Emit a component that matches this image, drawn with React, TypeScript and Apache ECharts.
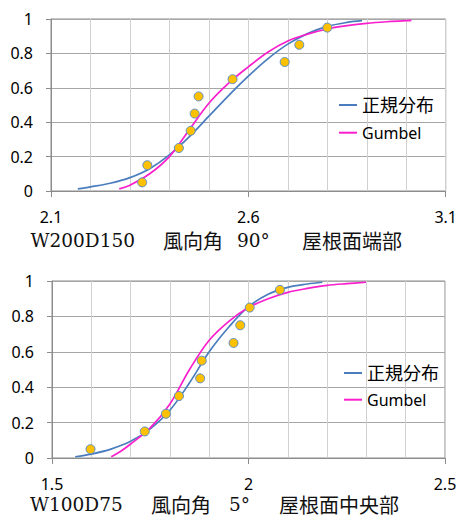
import React, { useEffect, useRef } from "react";
import * as echarts from "echarts";

// Upper panel: W200D150, wind direction 90°, roof edge
const upperObserved: [number, number][] = [
  [2.331, 0.05], [2.344, 0.15], [2.424, 0.25], [2.454, 0.35], [2.464, 0.45],
  [2.474, 0.55], [2.56, 0.65], [2.692, 0.75], [2.729, 0.85], [2.8, 0.95],
];
const upperNormal: [number, number][] = [
  [2.168, 0.012], [2.2, 0.024], [2.25, 0.045], [2.3, 0.078], [2.35, 0.13],
  [2.4, 0.21], [2.45, 0.315], [2.5, 0.435], [2.55, 0.555], [2.6, 0.668],
  [2.65, 0.77], [2.7, 0.854], [2.75, 0.915], [2.8, 0.957], [2.85, 0.98],
  [2.888, 0.99],
];
const upperGumbel: [number, number][] = [
  [2.273, 0.012], [2.3, 0.034], [2.35, 0.1], [2.4, 0.2], [2.45, 0.355],
  [2.5, 0.51], [2.55, 0.627], [2.6, 0.722], [2.65, 0.808], [2.7, 0.872],
  [2.75, 0.912], [2.8, 0.942], [2.85, 0.961], [2.9, 0.975], [2.95, 0.984],
  [3.0, 0.99], [3.013, 0.992],
];

// Lower panel: W100D75, wind direction 5°, roof centre
const lowerObserved: [number, number][] = [
  [1.598, 0.05], [1.736, 0.15], [1.79, 0.25], [1.823, 0.35], [1.877, 0.45],
  [1.881, 0.55], [1.962, 0.65], [1.979, 0.75], [2.003, 0.85], [2.08, 0.95],
];
const lowerNormal: [number, number][] = [
  [1.559, 0.007], [1.6, 0.022], [1.65, 0.05], [1.7, 0.094], [1.75, 0.165],
  [1.8, 0.27], [1.85, 0.425], [1.9, 0.6], [1.95, 0.74], [2.0, 0.855],
  [2.05, 0.925], [2.1, 0.964], [2.15, 0.983], [2.188, 0.993],
];
const lowerGumbel: [number, number][] = [
  [1.651, 0.007], [1.675, 0.038], [1.7, 0.079], [1.75, 0.17], [1.8, 0.305],
  [1.85, 0.5], [1.9, 0.665], [1.95, 0.772], [2.0, 0.85], [2.05, 0.9],
  [2.1, 0.936], [2.15, 0.958], [2.2, 0.975], [2.25, 0.985], [2.299, 0.993],
];

const upperXRange = [2.1, 3.1];
const lowerXRange = [1.5, 2.5];
const xMajorStep = 0.5;
const yRange = [0, 1];
const yStep = 0.2;

const seriesNames = ["正規分布", "Gumbel"];

const upperCaption = [
  { text: "W200D150", x: 30.5, latin: true },
  { text: "風向角", x: 163, latin: false },
  { text: "90°", x: 237, latin: true },
  { text: "屋根面端部", x: 302, latin: false },
];
const lowerCaption = [
  { text: "W100D75", x: 30, latin: true },
  { text: "風向角", x: 151, latin: false },
  { text: "5°", x: 229, latin: true },
  { text: "屋根面中央部", x: 279, latin: false },
];

const AXIS_COLOR = "#8c8c8c";
const NORMAL_COLOR = "#4a7dbd";
const GUMBEL_COLOR = "#fa1fcc";
const LABEL_FONT = "'Noto Sans', 'Noto Sans CJK JP', sans-serif";

function xAxisFor(gridIndex: number, range: number[]) {
  return {
    type: "value",
    gridIndex,
    min: range[0],
    max: range[1],
    interval: xMajorStep,
    axisLine: { show: true, onZero: false, lineStyle: { color: AXIS_COLOR, width: 1 } },
    axisTick: { show: true, length: 6, lineStyle: { color: AXIS_COLOR } },
    axisLabel: { margin: 18, fontSize: 16, color: "#000", fontFamily: LABEL_FONT },
    splitLine: { show: true, lineStyle: { color: "#d0d0d0", width: 1 } },
    minorTick: { show: false, splitNumber: 5 },
    minorSplitLine: { show: true, lineStyle: { color: "#d0d0d0", width: 1 } },
  };
}

function yAxisFor(gridIndex: number) {
  return {
    type: "value",
    gridIndex,
    min: yRange[0],
    max: yRange[1],
    interval: yStep,
    axisLine: { show: true, lineStyle: { color: AXIS_COLOR, width: 1 } },
    axisTick: { show: true, length: 5, lineStyle: { color: AXIS_COLOR } },
    axisLabel: { margin: 18, fontSize: 16, color: "#000", fontFamily: LABEL_FONT },
    splitLine: { show: true, lineStyle: { color: "#a6a6a6", width: 1 } },
  };
}

function panelSeries(
  idx: number,
  observed: [number, number][],
  normal: [number, number][],
  gumbel: [number, number][]
) {
  const curve = (name: string, data: [number, number][], color: string) => ({
    type: "line",
    name,
    xAxisIndex: idx,
    yAxisIndex: idx,
    data,
    smooth: 0.35,
    showSymbol: false,
    lineStyle: { color, width: 1.7 },
    itemStyle: { color },
    z: 2,
  });
  return [
    curve(seriesNames[0], normal, NORMAL_COLOR),
    curve(seriesNames[1], gumbel, GUMBEL_COLOR),
    {
      type: "scatter",
      name: "observed",
      xAxisIndex: idx,
      yAxisIndex: idx,
      data: observed,
      symbolSize: 9,
      itemStyle: { color: "#ffc000", borderColor: "#5b8fc9", borderWidth: 1, opacity: 1 },
      z: 3,
    },
  ];
}

function legendFor(left: number, top: number, gap: number) {
  return {
    orient: "vertical",
    left,
    top,
    itemGap: gap,
    itemWidth: 18,
    itemHeight: 2,
    icon: "rect",
    selectedMode: false,
    padding: 0,
    textStyle: { color: "#000", fontFamily: LABEL_FONT },
    data: [
      { name: seriesNames[0], textStyle: { fontSize: 18 } },
      { name: seriesNames[1], textStyle: { fontSize: 16 } },
    ],
  };
}

function captionTexts(parts: { text: string; x: number; latin: boolean }[], y: number) {
  return parts.map((p) => ({
    type: "text",
    x: p.x,
    y,
    style: {
      text: p.text,
      fill: "#111",
      verticalAlign: "middle",
      align: "left",
      fontFamily: p.latin ? "DejaVu Serif" : "Noto Sans CJK JP",
      fontSize: p.latin ? 18.5 : 20,
    },
  }));
}

export default function App() {
  const ref = useRef<HTMLDivElement>(null);

  useEffect(() => {
    if (!ref.current) return;
    const chart = echarts.init(ref.current, undefined, { renderer: "svg" });
    chart.setOption({
      animation: false,
      backgroundColor: "#fff",
      grid: [
        { left: 51, top: 19, width: 395, height: 172, show: true, borderColor: AXIS_COLOR, borderWidth: 1, backgroundColor: "transparent" },
        { left: 52, top: 281, width: 393, height: 177, show: true, borderColor: AXIS_COLOR, borderWidth: 1, backgroundColor: "transparent" },
      ],
      xAxis: [xAxisFor(0, upperXRange), xAxisFor(1, lowerXRange)],
      yAxis: [yAxisFor(0), yAxisFor(1)],
      legend: [legendFor(339, 96, 10.7), legendFor(344, 364, 9.7)],
      series: [
        ...panelSeries(0, upperObserved, upperNormal, upperGumbel),
        ...panelSeries(1, lowerObserved, lowerNormal, lowerGumbel),
      ],
      graphic: [...captionTexts(upperCaption, 240), ...captionTexts(lowerCaption, 504)],
    });
    return () => chart.dispose();
  }, []);

  return (
    <div
      ref={ref}
      style={{ position: "absolute", left: 0, top: 0, width: 460, height: 517 }}
    />
  );
}
